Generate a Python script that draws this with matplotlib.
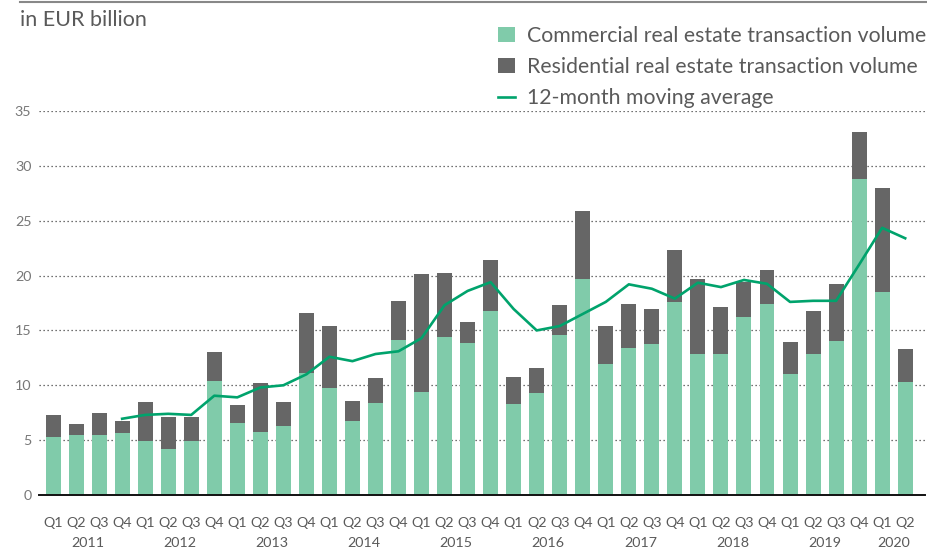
import matplotlib
matplotlib.use("Agg")
import matplotlib.pyplot as plt
import matplotlib.transforms as mtrans
from matplotlib.patches import Patch
from matplotlib.lines import Line2D
import numpy as np

plt.rcParams['font.family'] = ['Lato', 'DejaVu Sans']

quarters = ["Q1", "Q2", "Q3", "Q4"] * 9 + ["Q1", "Q2"]
years = ["2011", "2012", "2013", "2014", "2015", "2016", "2017", "2018", "2019", "2020"]

total = [7.3, 6.5, 7.5, 6.75, 8.5, 7.1, 7.1, 13.0,
         8.2, 10.2, 8.5, 16.6, 15.4, 8.6, 10.7, 17.7,
         20.1, 20.2, 15.8, 21.4, 10.75, 11.6, 17.3, 25.9,
         15.4, 17.4, 16.95, 22.3, 19.7, 17.1, 19.4, 20.5,
         13.95, 16.8, 19.2, 33.1, 28.0, 13.3]
commercial = [5.3, 5.5, 5.5, 5.65, 4.9, 4.2, 4.9, 10.4,
              6.55, 5.75, 6.3, 11.1, 9.75, 6.75, 8.4, 14.1,
              9.4, 14.4, 13.85, 16.8, 8.3, 9.3, 14.6, 19.7,
              11.95, 13.4, 13.75, 17.6, 12.85, 12.85, 16.2, 17.4,
              11.0, 12.85, 14.0, 28.8, 18.5, 10.3]
residential = [t - c for t, c in zip(total, commercial)]
moving_avg = [np.nan, np.nan, np.nan, 6.95, 7.3, 7.4, 7.3, 9.05,
              8.9, 9.8, 10.0, 11.0, 12.6, 12.2, 12.85, 13.1,
              14.3, 17.3, 18.6, 19.4, 16.95, 15.0, 15.4, 16.5,
              17.6, 19.2, 18.8, 17.9, 19.35, 18.95, 19.6, 19.25,
              17.6, 17.7, 17.7, 21.0, 24.35, 23.4]

green = "#80CBAA"
dark = "#666666"
line_c = "#00A36C"
txt = "#5a5a5a"

fig = plt.figure(figsize=(9.28, 5.48), dpi=100)
W, H = 928, 548
ax = fig.add_axes([39 / W, (H - 495) / H, (925 - 39) / W, (495 - 111) / H])

x = np.arange(len(total))
ax.bar(x, commercial, width=0.65, color=green, zorder=2)
ax.bar(x, residential, width=0.65, bottom=commercial, color=dark, zorder=2)
ax.plot(x, moving_avg, color=line_c, lw=1.9, zorder=3)

ax.set_ylim(0, 35)
ax.set_xlim(-0.61, 37.86)
ax.set_yticks(range(0, 36, 5))
for v in range(5, 36, 5):
    ax.axhline(v, color="#444444", lw=0.9, ls=(0, (1, 2.2)), zorder=1)
for s in ["top", "left", "right"]:
    ax.spines[s].set_visible(False)
ax.spines["bottom"].set_color("#111111")
ax.spines["bottom"].set_linewidth(1.4)
ax.spines["bottom"].set_zorder(4)

ax.set_xticks(x)
ax.set_xticklabels(quarters)
ax.tick_params(axis="x", length=0, pad=16, labelsize=10.3, labelcolor=txt)
ax.tick_params(axis="y", length=0, pad=5.5, labelsize=10.3, labelcolor="#777777")

trans = mtrans.blended_transform_factory(ax.transData, fig.transFigure)
year_pos = [1.5 + 4 * i for i in range(9)] + [36.5]
for yp, yr in zip(year_pos, years):
    ax.text(yp, (H - 543) / H, yr, transform=trans, ha="center", va="center",
            fontsize=10.3, color=txt)

fig.text(20 / W, (H - 20) / H, "in EUR billion", fontsize=15.5, color=txt,
         ha="left", va="center")
fig.add_artist(Line2D([20 / W, 1.0], [(H - 1.5) / H, (H - 1.5) / H],
                      color="#888888", lw=1.5, transform=fig.transFigure))

handles = [Patch(facecolor=green, edgecolor="none"),
           Patch(facecolor=dark, edgecolor="none"),
           Line2D([0], [0], color=line_c, lw=1.9)]
labels = ["Commercial real estate transaction volume",
          "Residential real estate transaction volume",
          "12-month moving average"]
leg = fig.legend(handles, labels, loc="upper left",
                 bbox_to_anchor=(498 / W, (H - 26) / H), frameon=False,
                 fontsize=15.3, labelcolor=txt, handlelength=0.8,
                 handleheight=0.75, handletextpad=0.55, labelspacing=0.52,
                 borderaxespad=0, borderpad=0)

fig.savefig("out.png", dpi=100)
